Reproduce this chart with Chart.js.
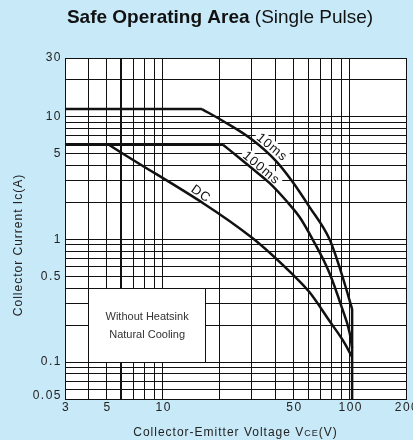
<!DOCTYPE html>
<html>
<head>
<meta charset="utf-8">
<script src="https://cdn.jsdelivr.net/npm/chart.js@4.4.1/dist/chart.umd.min.js"></script>
<style>
  html, body { margin: 0; padding: 0; background: #c8e9f8; }
  canvas { display: block; }
</style>
</head>
<body>
<canvas id="grafico" width="413" height="440"></canvas>
<script>
// grid values (log paper) and labelled ticks
const xGrid = [3, 4, 5, 6, 7, 8, 9, 10, 20, 30, 40, 50, 60, 70, 80, 90, 100, 200];
const yGrid = [0.05, 0.06, 0.07, 0.08, 0.09, 0.1, 0.2, 0.3, 0.4, 0.5, 0.6, 0.7, 0.8, 0.9,
               1, 2, 3, 4, 5, 6, 7, 8, 9, 10, 20, 30];
const xTickLabels = [3, 5, 10, 50, 100, 200];
const yTickLabels = [0.05, 0.1, 0.5, 1, 5, 10, 30];

// curves (Vce in V, Ic in A)
const v10ms = [3, 16.2, 21, 30, 40.6, 49, 61, 78, 88, 96, 103, 103];
const i10ms = [11.5, 11.5, 9.2, 6.5, 4.3, 3.0, 1.83, 1.0, 0.6, 0.39, 0.27, 0.05];
const v100ms = [3, 21, 25.7, 31.7, 37.2, 45.9, 53.9, 63.3, 78, 90.6, 100, 103];
const i100ms = [5.9, 5.9, 4.6, 3.54, 2.88, 2.05, 1.52, 1.0, 0.53, 0.28, 0.172, 0.13];
const vDC = [3, 5.15, 29.8, 50, 61, 79, 92, 103];
const iDC = [5.9, 5.9, 1.04, 0.51, 0.37, 0.21, 0.15, 0.11];

const FONT = '"Liberation Sans", Arial, sans-serif';

function pts(vs, is) {
  return vs.map((v, k) => ({ x: v, y: is[k] }));
}

// curve names placed next to the lines
const curveLabels = [
  { text: "10ms", v: 38.3, i: 5.6, angle: 40 },
  { text: "100ms", v: 33.6, i: 3.8, angle: 40 },
  { text: "DC", v: 16.0, i: 2.34, angle: 35 }
];

const fondo = {
  id: "fondo",
  beforeDraw(chart) {
    const ctx = chart.ctx, a = chart.chartArea;
    ctx.save();
    ctx.fillStyle = "#c8e9f8";
    ctx.fillRect(0, 0, chart.width, chart.height);
    ctx.fillStyle = "#ffffff";
    ctx.fillRect(a.left, a.top, a.right - a.left, a.bottom - a.top);
    ctx.restore();
  },
  beforeDatasetsDraw(chart) {
    const ctx = chart.ctx, xs = chart.scales.x, ys = chart.scales.y;
    ctx.save();
    // note box
    const bx = xs.getPixelForValue(4), by = ys.getPixelForValue(0.4);
    const bx2 = xs.getPixelForValue(17), by2 = ys.getPixelForValue(0.1);
    ctx.fillStyle = "#ffffff";
    ctx.fillRect(bx, by, bx2 - bx, by2 - by);
    ctx.strokeStyle = "#111";
    ctx.lineWidth = 1;
    ctx.strokeRect(Math.round(bx) + 0.5, Math.round(by) + 0.5, Math.round(bx2 - bx), Math.round(by2 - by));
    ctx.fillStyle = "#333";
    ctx.font = "11px " + FONT;
    ctx.textAlign = "center";
    ctx.textBaseline = "middle";
    const cx = (bx + bx2) / 2, cy = (by + by2) / 2;
    ctx.fillText("Without Heatsink", cx, cy - 8);
    ctx.fillText("Natural Cooling", cx, cy + 10);

    // curve labels with white backing
    ctx.font = "13px " + FONT;
    ctx.letterSpacing = "1px";
    curveLabels.forEach(l => {
      const px = xs.getPixelForValue(l.v), py = ys.getPixelForValue(l.i);
      const w = ctx.measureText(l.text).width;
      ctx.save();
      ctx.translate(px, py);
      ctx.rotate(l.angle * Math.PI / 180);
      ctx.fillStyle = "#ffffff";
      ctx.fillRect(-w / 2 - 2, -7, w + 4, 14);
      ctx.fillStyle = "#111";
      ctx.fillText(l.text, 0, 0);
      ctx.restore();
    });
    ctx.restore();
  },
  afterDraw(chart) {
    const ctx = chart.ctx, xs = chart.scales.x, ys = chart.scales.y, a = chart.chartArea;
    ctx.save();
    // title
    ctx.textBaseline = "middle";
    ctx.fillStyle = "#111";
    const t1 = "Safe Operating Area", t2 = " (Single Pulse)";
    ctx.font = "bold 19px " + FONT;
    const w1 = ctx.measureText(t1).width;
    ctx.font = "19px " + FONT;
    const w2 = ctx.measureText(t2).width;
    let tx = 220 - (w1 + w2) / 2;
    ctx.textAlign = "left";
    ctx.font = "bold 19px " + FONT;
    ctx.fillText(t1, tx, 18);
    ctx.font = "19px " + FONT;
    ctx.fillText(t2, tx + w1, 18);

    // tick labels
    ctx.fillStyle = "#222";
    ctx.font = "12px " + FONT;
    ctx.letterSpacing = "1.5px";
    ctx.textAlign = "center";
    xTickLabels.forEach(v => ctx.fillText(String(v), xs.getPixelForValue(v) + 1, 408));
    ctx.textAlign = "right";
    yTickLabels.forEach(v => ctx.fillText(String(v), a.left - 3, Math.min(ys.getPixelForValue(v), a.bottom - 3)));

    // x axis title with small CE
    ctx.letterSpacing = "1px";
    ctx.textAlign = "left";
    const p1 = "Collector-Emitter Voltage V", p2 = "CE", p3 = "(V)";
    ctx.font = "12px " + FONT;
    const q1 = ctx.measureText(p1).width, q3 = ctx.measureText(p3).width;
    ctx.font = "9px " + FONT;
    const q2 = ctx.measureText(p2).width;
    let ax = (a.left + a.right) / 2 - (q1 + q2 + q3) / 2;
    ctx.font = "12px " + FONT;
    ctx.fillText(p1, ax, 433);
    ctx.font = "9px " + FONT;
    ctx.fillText(p2, ax + q1, 434);
    ctx.font = "12px " + FONT;
    ctx.fillText(p3, ax + q1 + q2, 433);

    // y axis title
    ctx.translate(19, 245);
    ctx.rotate(-Math.PI / 2);
    ctx.textAlign = "center";
    ctx.fillText("Collector Current Ic(A)", 0, 0);
    ctx.restore();
  }
};

function lineSet(label, data, smooth) {
  return {
    label: label,
    data: data,
    showLine: true,
    borderColor: "#111",
    borderWidth: 2.5,
    pointRadius: 0,
    tension: smooth ? 0.4 : 0,
    cubicInterpolationMode: smooth ? "monotone" : "default",
    fill: false
  };
}

// each curve: flat limit, curved part (smoothed), vertical voltage limit
function curveSets(label, vs, is, knee, wall) {
  const all = pts(vs, is);
  const sets = [
    lineSet(label, all.slice(0, knee + 1), false),
    lineSet(label, all.slice(knee, wall + 1), true)
  ];
  if (wall < all.length - 1) sets.push(lineSet(label, all.slice(wall), false));
  return sets;
}

const ctx = document.getElementById("grafico").getContext("2d");

const grafico = new Chart(ctx, {
  type: "scatter",
  data: {
    datasets: [
      ...curveSets("10ms", v10ms, i10ms, 1, 10),
      ...curveSets("100ms", v100ms, i100ms, 1, 11),
      ...curveSets("DC", vDC, iDC, 1, 7)
    ]
  },
  options: {
    responsive: false,
    animation: false,
    layout: { padding: { left: 65, top: 58, right: 7, bottom: 41 } },
    plugins: {
      legend: { display: false },
      tooltip: { enabled: false }
    },
    scales: {
      x: {
        type: "logarithmic",
        min: 3,
        max: 200,
        afterBuildTicks: axis => { axis.ticks = xGrid.map(v => ({ value: v })); },
        ticks: { display: false },
        grid: {
          color: "#111",
          lineWidth: c => (c.tick && c.tick.value === 6 ? 2 : 1),
          drawTicks: false
        },
        border: { color: "#111", width: 1 }
      },
      y: {
        type: "logarithmic",
        min: 0.05,
        max: 30,
        afterBuildTicks: axis => { axis.ticks = yGrid.map(v => ({ value: v })); },
        ticks: { display: false },
        grid: { color: "#111", lineWidth: 1, drawTicks: false },
        border: { color: "#111", width: 1 }
      }
    }
  },
  plugins: [fondo]
});
</script>
</body>
</html>
